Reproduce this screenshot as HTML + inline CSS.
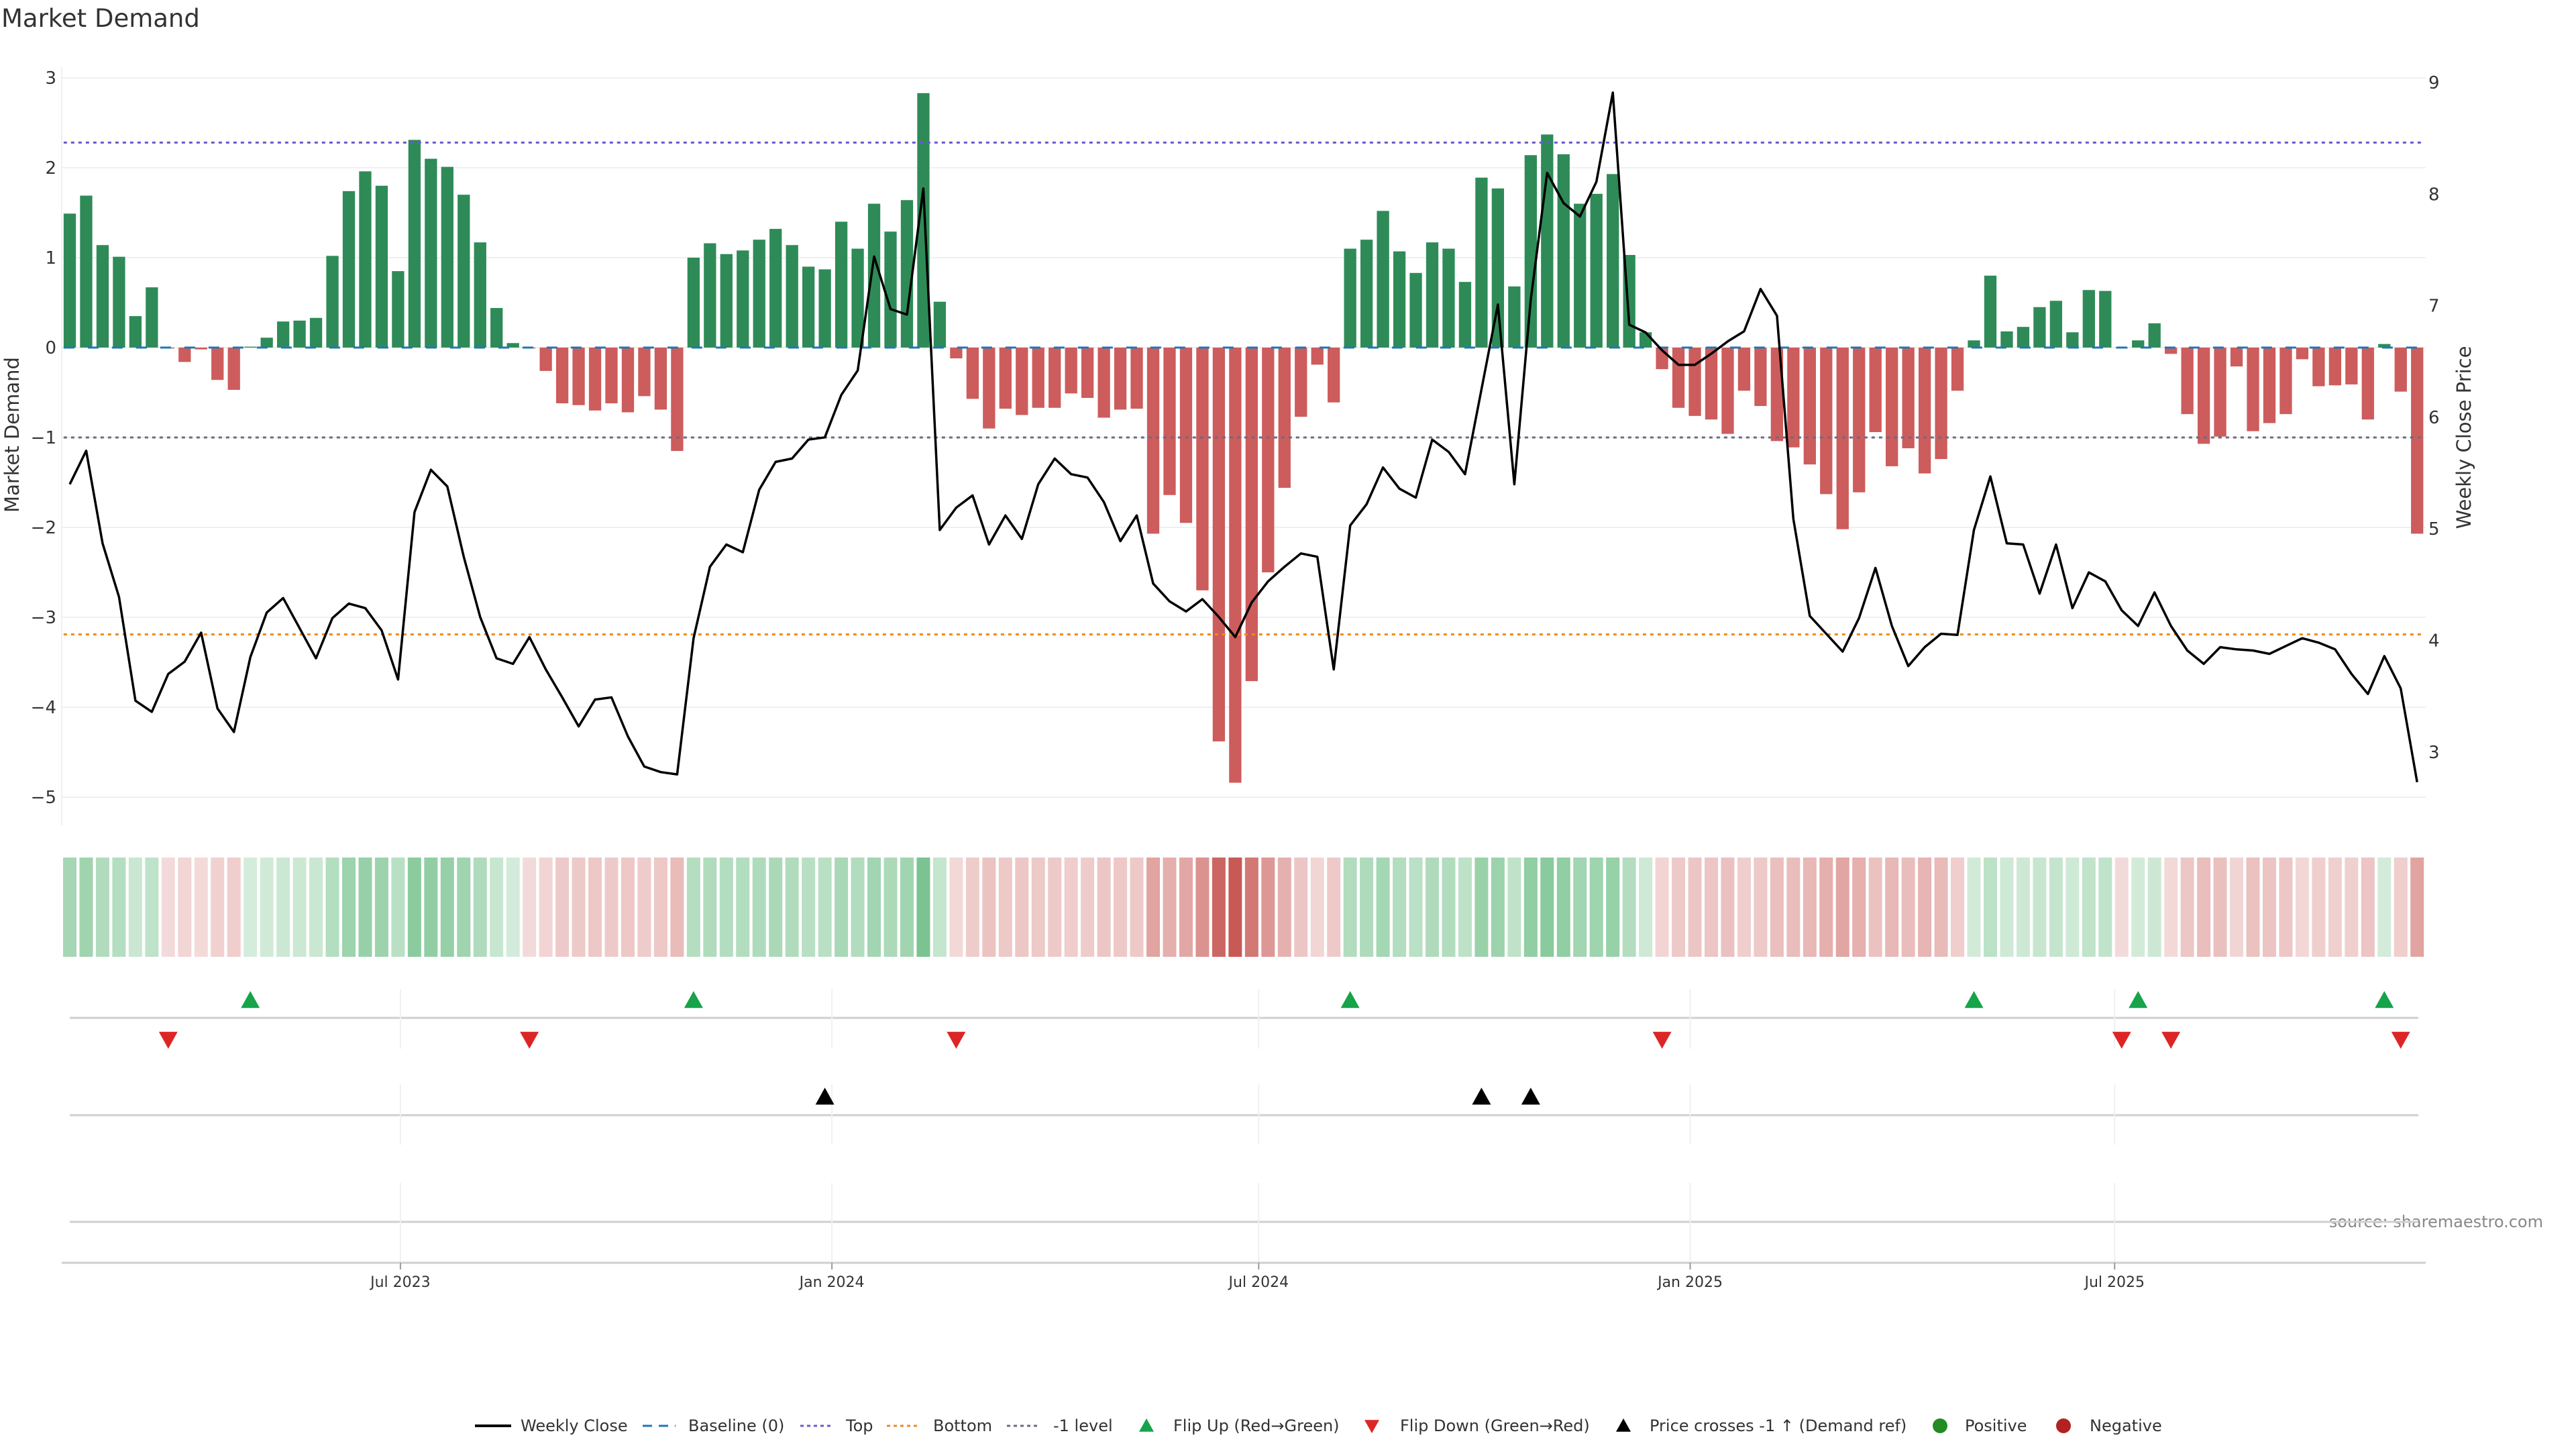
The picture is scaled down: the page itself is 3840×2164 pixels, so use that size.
<!DOCTYPE html>
<html><head><meta charset="utf-8"><title>Market Demand</title>
<style>
html,body{margin:0;padding:0;background:#fff;}
body{width:3840px;height:2160px;overflow:hidden;font-family:"DejaVu Sans","Liberation Sans",sans-serif;}
svg text{font-family:"DejaVu Sans","Liberation Sans",sans-serif;}
</style></head>
<body>
<svg id="chart" width="3840" height="2160" viewBox="0 0 3840 2160" xmlns="http://www.w3.org/2000/svg">
<text x="2" y="40" font-size="37" fill="#333">Market Demand</text>
<text transform="translate(28,648) rotate(-90)" text-anchor="middle" font-size="29" fill="#333">Market Demand</text>
<text transform="translate(3683,652) rotate(-90)" text-anchor="middle" font-size="29" fill="#333">Weekly Close Price</text>
<text x="3791" y="1829" text-anchor="end" font-size="24" fill="#888">source: sharemaestro.com</text>
<g id="grid"></g>
<g id="bars"></g>
<g id="refs"></g>
<g id="price"></g>
<g id="heat"></g>
<g id="markers"></g>
<g id="xaxis"></g>
<g id="legend"></g>
</svg>
<script>
const demand = [1.49,1.69,1.14,1.01,0.35,0.67,-0.01,-0.16,-0.02,-0.36,-0.47,0.01,0.11,0.29,0.30,0.33,1.02,1.74,1.96,1.80,
0.85,2.31,2.10,2.01,1.70,1.17,0.44,0.05,-0.01,-0.26,-0.62,-0.64,-0.70,-0.62,-0.72,-0.54,-0.69,-1.15,1.00,1.16,
1.04,1.08,1.20,1.32,1.14,0.90,0.87,1.40,1.10,1.60,1.29,1.64,2.83,0.51,-0.12,-0.57,-0.90,-0.68,-0.75,-0.67,
-0.67,-0.51,-0.56,-0.78,-0.69,-0.68,-2.07,-1.64,-1.95,-2.70,-4.38,-4.84,-3.71,-2.50,-1.56,-0.77,-0.19,-0.61,1.10,1.20,
1.52,1.07,0.83,1.17,1.10,0.73,1.89,1.77,0.68,2.14,2.37,2.15,1.60,1.71,1.93,1.03,0.17,-0.24,-0.67,-0.76,
-0.80,-0.96,-0.48,-0.65,-1.04,-1.11,-1.30,-1.63,-2.02,-1.61,-0.94,-1.32,-1.12,-1.40,-1.24,-0.48,0.08,0.80,0.18,0.23,
0.45,0.52,0.17,0.64,0.63,-0.01,0.08,0.27,-0.07,-0.74,-1.07,-0.99,-0.21,-0.93,-0.84,-0.74,-0.13,-0.43,-0.42,-0.41,
-0.80,0.04,-0.49,-2.07];
const closePrice = [5.40,5.70,4.87,4.39,3.46,3.36,3.70,3.81,4.07,3.39,3.18,3.85,4.25,4.38,4.11,3.84,4.20,4.33,4.29,4.09,
3.65,5.15,5.53,5.38,4.75,4.21,3.84,3.79,4.03,3.74,3.49,3.23,3.47,3.49,3.14,2.87,2.82,2.80,4.02,4.66,
4.86,4.79,5.35,5.60,5.63,5.80,5.82,6.20,6.42,7.44,6.97,6.92,8.05,4.99,5.19,5.30,4.86,5.12,4.91,5.40,
5.63,5.49,5.46,5.24,4.89,5.12,4.51,4.35,4.26,4.37,4.21,4.03,4.34,4.53,4.66,4.78,4.75,3.74,5.03,5.22,
5.55,5.36,5.28,5.80,5.69,5.49,6.25,7.01,5.40,7.05,8.19,7.92,7.80,8.11,8.91,6.83,6.76,6.60,6.47,6.47,
6.57,6.68,6.77,7.15,6.91,5.09,4.22,4.06,3.90,4.20,4.65,4.13,3.77,3.94,4.06,4.05,4.99,5.47,4.87,4.86,
4.42,4.86,4.29,4.61,4.53,4.27,4.13,4.43,4.13,3.91,3.79,3.94,3.92,3.91,3.88,3.95,4.02,3.98,3.92,3.70,
3.52,3.86,3.57,2.73];
const crossIdx = [46,86,89];
const demandTicks = [3,2,1,0,-1,-2,-3,-4,-5];
const priceTicks = [9,8,7,6,5,4,3];
const dateTicks = ["2023-07-01","2024-01-01","2024-07-01","2025-01-01","2025-07-01"];
const dateTickLabels = ["Jul 2023","Jan 2024","Jul 2024","Jan 2025","Jul 2025"];
const topLevel = 2.28, bottomLevel = -3.19, minusLevel = -1;

const NS = "http://www.w3.org/2000/svg";
function mk(tag, attrs, parent){const e=document.createElementNS(NS,tag);for(const k in attrs)e.setAttribute(k,attrs[k]);if(parent)parent.appendChild(e);return e;}
const startDate = new Date("2023-02-10T00:00:00Z").getTime();
const X0 = 104, STEP = 24.47, BW = 18.3;
function xi(i){return X0 + STEP*i;}
function xDate(s){return xi((new Date(s+"T00:00:00Z").getTime()-startDate)/(7*86400000));}
function yD(v){return 518 - v*134;}
function yP(p){return 123 + (9-p)*166.3;}
const PL = 92, PR = 3616;

const grid = document.getElementById('grid');
demandTicks.forEach(t=>{
  const l = mk('line',{x1:PL,x2:PR,y1:yD(t),y2:yD(t),stroke:'#eef0f3','stroke-width':2},grid);
  
  
  const tx = mk('text',{x:84,y:yD(t)+9,'text-anchor':'end','font-size':26,fill:'#333'},grid);
  tx.textContent = t<0 ? '\u2212'+Math.abs(t) : String(t);
  
  
});
mk('line',{x1:PL,x2:PL,y1:100,y2:1230,stroke:'#eef0f3','stroke-width':2},grid);
priceTicks.forEach(t=>{
  const tx = mk('text',{x:3620,y:yP(t)+9,'font-size':26,fill:'#333'},grid);
  tx.textContent = String(t);
  
  
});

const bars = document.getElementById('bars');
demand.forEach((v,i)=>{
  const y1 = Math.min(yD(v),yD(0)), h = Math.max(Math.abs(yD(v)-yD(0)),1);
  const r = mk('rect',{x:xi(i)-BW/2,y:y1,width:BW,height:h,fill:v>=0?'#2e8b57':'#cd5c5c'},bars);
  
  
});

const refs = document.getElementById('refs');
const bl = mk('line',{x1:xi(0)-BW/2,x2:xi(demand.length-1)+BW/2,y1:yD(0),y2:yD(0),stroke:'#1f77b4','stroke-width':3,'stroke-dasharray':'16 20'},refs);


const tl = mk('line',{x1:xi(0)-BW/2,x2:xi(demand.length-1)+BW/2,y1:yD(topLevel),y2:yD(topLevel),stroke:'#6a5acd','stroke-width':3,'stroke-dasharray':'5 6'},refs);


const btl = mk('line',{x1:xi(0)-BW/2,x2:xi(demand.length-1)+BW/2,y1:yD(bottomLevel),y2:yD(bottomLevel),stroke:'#ef8a1c','stroke-width':3,'stroke-dasharray':'5 6'},refs);


const ml = mk('line',{x1:xi(0)-BW/2,x2:xi(demand.length-1)+BW/2,y1:yD(minusLevel),y2:yD(minusLevel),stroke:'#6b6b80','stroke-width':3,'stroke-dasharray':'5 6'},refs);



const price = document.getElementById('price');
const pl = mk('polyline',{points:closePrice.map((p,i)=>xi(i).toFixed(1)+','+yP(p).toFixed(1)).join(' '),fill:'none',stroke:'#000','stroke-width':3.5,'stroke-linejoin':'round'},price);



const heat = document.getElementById('heat');
const maxAbs = Math.max(...demand.map(Math.abs));
demand.forEach((v,i)=>{
  const a = 0.22 + 0.78*Math.abs(v)/maxAbs;
  const c = v>=0 ? [60,168,92] : [200,90,86];
  const col = 'rgb('+c.map(k=>Math.round(255-(255-k)*a)).join(',')+')';
  const r = mk('rect',{x:xi(i)-10,y:1278,width:20,height:148,fill:col},heat);
  
  
});

const markers = document.getElementById('markers');
const panels = [[1474,1563,1517],[1616,1706,1662],[1763,1881,1821]];
panels.forEach(p=>{
  const l = mk('line',{x1:104,x2:3605,y1:p[2],y2:p[2],stroke:'#cfcfcf','stroke-width':3},markers);
  
  
  dateTicks.forEach(d=>{
    const g = mk('line',{x1:xDate(d),x2:xDate(d),y1:p[0],y2:p[1],stroke:'#eef0f3','stroke-width':2},markers);
    
    
  });
});
function tri(x,y,up,col,name){
  const s=14;
  const pts = up ? [[x,y-s],[x+s,y+s*0.8],[x-s,y+s*0.8]] : [[x,y+s],[x+s,y-s*0.8],[x-s,y-s*0.8]];
  const t = mk('polygon',{points:pts.map(q=>q.join(',')).join(' '),fill:col},markers);
  
  
}
for(let i=1;i<demand.length;i++){
  if(demand[i-1]<0 && demand[i]>=0) tri(xi(i),1491,true,'#16a34a','flip-up-marker');
  if(demand[i-1]>=0 && demand[i]<0) tri(xi(i),1549,false,'#dc2626','flip-down-marker');
}
crossIdx.forEach(i=>tri(xi(i),1635,true,'#000','price-cross-marker'));

const xaxis = document.getElementById('xaxis');
mk('line',{x1:PL,x2:PR,y1:1882,y2:1882,stroke:'#cfcfcf','stroke-width':3},xaxis);
dateTicks.forEach((d,k)=>{
  const x = xDate(d);
  mk('line',{x1:x,x2:x,y1:1882,y2:1892,stroke:'#999','stroke-width':2},xaxis);
  const t = mk('text',{x:x,y:1918,'text-anchor':'middle','font-size':22,fill:'#333'},xaxis);
  t.textContent = dateTickLabels[k];
  
  
});

const legend = document.getElementById('legend');
const LY = 2125;
function ltext(x,s){const t=mk('text',{x:x,y:LY+8,'font-size':24,fill:'#333'},legend);t.textContent=s;}
function lline(x1,x2,col,dash,w){const l=mk('line',{x1:x1,x2:x2,y1:LY,y2:LY,stroke:col,'stroke-width':w,'stroke-dasharray':dash},legend);}
lline(708,762,'#000','none',4); ltext(776,'Weekly Close');
lline(958,1007,'#1f77b4','14 10',3); ltext(1026,'Baseline (0)');
lline(1193,1242,'#6a5acd','5 5',3); ltext(1261,'Top');
lline(1322,1371,'#ef8a1c','5 5',3); ltext(1391,'Bottom');
lline(1501,1550,'#6b6b80','5 5',3); ltext(1570,'-1 level');
function ltri(x,up,col){const s=11;const y=LY;const pts=up?[[x,y-s],[x+s,y+s*0.8],[x-s,y+s*0.8]]:[[x,y+s],[x+s,y-s*0.8],[x-s,y-s*0.8]];const t=mk('polygon',{points:pts.map(q=>q.join(',')).join(' '),fill:col},legend);}
ltri(1709,true,'#16a34a'); ltext(1749,'Flip Up (Red\u2192Green)');
ltri(2045,false,'#dc2626'); ltext(2087,'Flip Down (Green\u2192Red)');
ltri(2420,true,'#000'); ltext(2459,'Price crosses -1 \u2191 (Demand ref)');
const c1=mk('circle',{cx:2892,cy:LY,r:11,fill:'#228b22'},legend);


ltext(2929,'Positive');
const c2=mk('circle',{cx:3076,cy:LY,r:11,fill:'#b22222'},legend);


ltext(3115,'Negative');
</script>
</body></html>
